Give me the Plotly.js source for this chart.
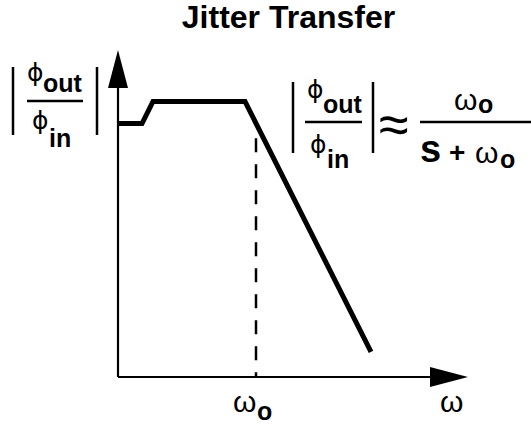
<!DOCTYPE html>
<html><head><meta charset="utf-8">
<script src="https://cdn.plot.ly/plotly-3.0.1.min.js"></script>
<style>html,body{margin:0;padding:0;background:#fff}</style>
</head><body>
<div id="chart" style="width:531px;height:427px"></div>
<script>
// Jitter transfer magnitude (schematic units: origin at axis corner)
const curveX = [0, 0.686, 1.0, 3.629, 7.229];
const curveY = [7.752, 7.752, 8.425, 8.425, 0.765];
const cornerFreq = 3.943;   // ω_o marker
const cornerTop = 7.3;
const axisEnd = 10;
const xRange = [-3.3714, 11.8];
const yRange = [-1.529, 11.529];

const W = 531, H = 427;
const FONT = 'Liberation Sans, Arial, Helvetica, sans-serif';
const PHI_FONT = 'DejaVu Sans, sans-serif';
const PHI = 'ϕ';
const px = v => v / W;
const py = v => 1 - v / H;

const traces = [
  {x: curveX, y: curveY, mode: 'lines', line: {color: '#000', width: 5}, hoverinfo: 'skip'},
  {x: [cornerFreq, cornerFreq], y: [cornerTop, 0], mode: 'lines',
   line: {color: '#000', width: 2.5, dash: '14px,12px'}, hoverinfo: 'skip'}
];

const shapes = [
  {type: 'line', x0: 0, y0: 0, x1: 0, y1: 9.0, line: {color: '#000', width: 2.2}},
  {type: 'line', x0: 0, y0: 0, x1: 9.0, y1: 0, line: {color: '#000', width: 2.2}},
  {type: 'path', path: 'M -0.286,8.838 L 0,' + axisEnd + ' L 0.286,8.838 Z', fillcolor: '#000', line: {width: 0}},
  {type: 'path', path: 'M 8.914,-0.306 L ' + axisEnd + ',0 L 8.914,0.306 Z', fillcolor: '#000', line: {width: 0}}
];
function pline(x0, y0, x1, y1, w) {
  shapes.push({type: 'line', xref: 'paper', yref: 'paper', x0: px(x0), y0: py(y0), x1: px(x1), y1: py(y1),
    line: {color: '#000', width: w || 2.5}});
}
// left label |φout/φin|
pline(13, 67, 13, 135); pline(97, 67, 97, 135); pline(27, 101, 83, 101);
// right formula
pline(293, 82, 293, 153); pline(373, 82, 373, 153); pline(305, 122, 362, 122); pline(420, 122, 531, 122);

const annotations = [];
function t(text, x, yb, size, bold, xanchor, family) {
  annotations.push({xref: 'paper', yref: 'paper', x: px(x), y: py(yb), xanchor: xanchor || 'center', yanchor: 'bottom',
    text: bold ? '<b>' + text + '</b>' : text, showarrow: false, borderpad: 0,
    font: {family: family || FONT, size: size, color: '#000'}});
}
// left label
t(PHI, 35, 88, 25, false, 'center', PHI_FONT);
t('out', 42, 98, 25, true, 'left');
t(PHI, 40, 136, 25, false, 'center', PHI_FONT);
t('in', 48, 153, 25, true, 'left');
// right formula
t(PHI, 315.5, 105, 25, false, 'center', PHI_FONT);
t('out', 322, 119, 25, true, 'left');
t(PHI, 318.5, 160, 25, false, 'center', PHI_FONT);
t('in', 326, 174, 25, true, 'left');
t('≈', 394, 155, 54);
t('ω', 465, 117, 30);
t('o', 477, 119, 25, true, 'left');
t('s', 430, 171, 38, true);
t('+', 456.5, 169, 28, true);
t('ω', 486.5, 170, 30);
t('o', 499, 174, 25, true, 'left');
// axis labels
t('ω', 244, 419, 30);
t('o', 256, 426, 25, true, 'left');
t('ω', 451.5, 419, 30);

const layout = {
  width: W, height: H, margin: {l: 0, r: 0, t: 0, b: 0},
  paper_bgcolor: '#fff', plot_bgcolor: '#fff', showlegend: false,
  title: {text: '<b>Jitter Transfer</b>', x: 288.5 / W, xanchor: 'center', xref: 'container',
          y: 1 - 6 / H, yanchor: 'top', yref: 'container',
          font: {family: FONT, size: 32, color: '#000'}},
  xaxis: {range: xRange, visible: false, fixedrange: true},
  yaxis: {range: yRange, visible: false, fixedrange: true},
  shapes: shapes, annotations: annotations
};
Plotly.newPlot('chart', traces, layout, {staticPlot: true, displayModeBar: false});
</script>
</body></html>
